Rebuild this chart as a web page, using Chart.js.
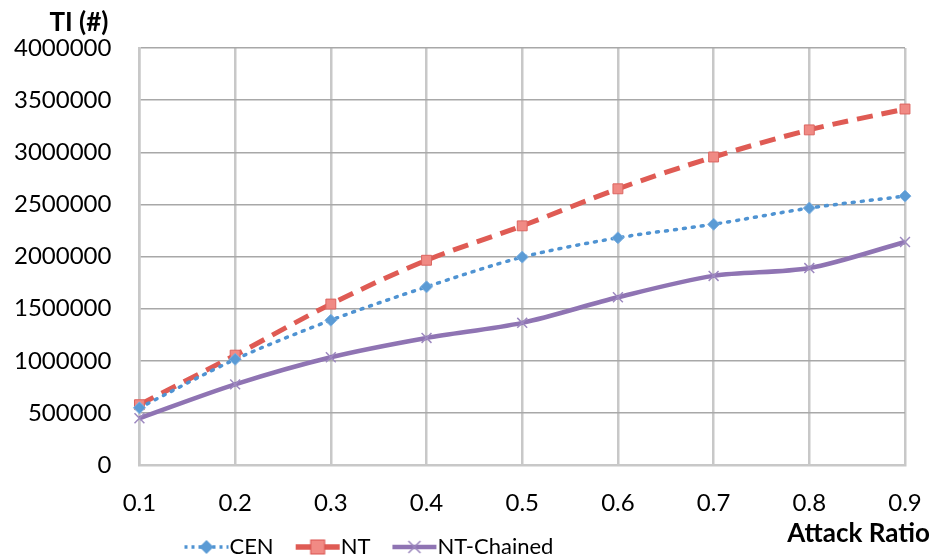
<!DOCTYPE html>
<html>
<head>
<meta charset="utf-8">
<script src="https://cdn.jsdelivr.net/npm/chart.js@4"></script>
<style>
  html, body { margin: 0; padding: 0; background: #fff; }
  #wrap { width: 935px; height: 557px; }
</style>
</head>
<body>
<div id="wrap"><canvas id="myChart"></canvas></div>
<script>
const attackRatios = ['0.1', '0.2', '0.3', '0.4', '0.5', '0.6', '0.7', '0.8', '0.9'];
const cenValues = [550000, 1015000, 1390000, 1710000, 1995000, 2180000, 2310000, 2465000, 2580000];
const ntValues = [580000, 1055000, 1545000, 1965000, 2295000, 2650000, 2955000, 3215000, 3415000];
const ntChainedValues = [450000, 775000, 1035000, 1220000, 1365000, 1610000, 1815000, 1890000, 2140000];
const yTicks = [0, 500000, 1000000, 1500000, 2000000, 2500000, 3000000, 3500000, 4000000];

const FONT = 'Lato, "Open Sans", sans-serif';

const blue = '#4f93d2';
const red = '#df5b54';
const purple = '#8f74b3';

// legend images: a line sample with its marker, drawn on the right part
// of a wider canvas so the gap sits before the sample, not after it
function legendSample(color, dash, width, drawMarker) {
    const c = document.createElement('canvas');
    c.width = 78;
    c.height = 18;
    const g = c.getContext('2d');
    g.strokeStyle = color;
    g.lineWidth = width;
    g.setLineDash(dash);
    g.beginPath();
    g.moveTo(33, 9);
    g.lineTo(77, 9);
    g.stroke();
    g.setLineDash([]);
    drawMarker(g, 55);
    return c;
}

const cenSample = legendSample(blue, [3, 4], 3.5, (g, m) => {
    g.fillStyle = '#5b9bd5';
    g.beginPath();
    g.moveTo(m, 2); g.lineTo(m + 7, 9); g.lineTo(m, 16); g.lineTo(m - 7, 9);
    g.closePath();
    g.fill();
});
const ntSample = legendSample(red, [], 5.5, (g, m) => {
    g.fillStyle = '#f18a84';
    g.strokeStyle = '#d9534f';
    g.lineWidth = 1;
    g.fillRect(m - 7, 2, 14, 14);
    g.strokeRect(m - 7, 2, 14, 14);
});
const chainedSample = legendSample(purple, [], 4.5, (g, m) => {
    g.strokeStyle = '#9b86bd';
    g.lineWidth = 1.5;
    g.beginPath();
    g.moveTo(m - 6, 3); g.lineTo(m + 6, 15);
    g.moveTo(m + 6, 3); g.lineTo(m - 6, 15);
    g.stroke();
});

// axis captions drawn next to the scales, legend nudged into place
const axisCaptions = {
    id: 'axisCaptions',
    afterLayout(chart) {
        chart.legend.left += 23;
        chart.legend.right += 23;
        chart.legend.top -= 6;
        chart.legend.bottom -= 6;
    },
    afterDraw(chart) {
        const ctx = chart.ctx;
        const x = chart.scales.x;
        const y = chart.scales.y;
        ctx.save();
        ctx.fillStyle = '#000';
        ctx.font = 'bold 26px ' + FONT;
        ctx.textAlign = 'right';
        ctx.textBaseline = 'middle';
        ctx.fillText('TI (#)', y.right - 31, chart.chartArea.top - 25);
        ctx.fillText('Attack Ratio', x.right + 25, chart.chartArea.bottom + 68);
        ctx.restore();
    }
};

const ctx = document.getElementById('myChart').getContext('2d');
const myChart = new Chart(ctx, {
    type: 'line',
    data: {
        labels: attackRatios,
        datasets: [{
            label: 'CEN',
            data: cenValues,
            borderColor: blue,
            borderWidth: 3.5,
            borderDash: [2, 7],
            borderCapStyle: 'round',
            pointStyle: 'rectRot',
            pointRadius: 6,
            pointBackgroundColor: '#5b9bd5',
            pointBorderColor: '#7fb1e0',
            pointBorderWidth: 1,
            tension: 0.3
        }, {
            label: 'NT',
            data: ntValues,
            borderColor: red,
            borderWidth: 5,
            borderDash: [16, 9],
            pointStyle: 'rect',
            pointRadius: 7,
            pointBackgroundColor: '#f08a84',
            pointBorderColor: '#dc6560',
            pointBorderWidth: 1,
            tension: 0.3
        }, {
            label: 'NT-Chained',
            data: ntChainedValues,
            borderColor: purple,
            borderWidth: 4.5,
            pointStyle: 'crossRot',
            pointRadius: 7,
            pointBorderColor: '#9d89c0',
            pointBorderWidth: 1.5,
            tension: 0.3
        }]
    },
    options: {
        responsive: true,
        maintainAspectRatio: false,
        animation: false,
        layout: {
            padding: { top: 48, left: -14, right: 30, bottom: -17 }
        },
        plugins: {
            legend: {
                position: 'bottom',
                align: 'start',
                fullSize: false,
                labels: {
                    usePointStyle: true,
                    pointStyleWidth: 56,
                    color: '#000',
                    font: { family: FONT, size: 22 },
                    padding: 0,
                    boxHeight: 18,
                    generateLabels(chart) {
                        const samples = [cenSample, ntSample, chainedSample];
                        return chart.data.datasets.map((ds, i) => ({
                            text: ds.label,
                            pointStyle: samples[i],
                            fontColor: '#000',
                            datasetIndex: i,
                            hidden: false
                        }));
                    }
                }
            },
            tooltip: { enabled: false }
        },
        scales: {
            x: {
                grid: {
                    color: '#c8c8c8',
                    lineWidth: 2.5,
                    drawTicks: false,
                    offset: false
                },
                border: { color: '#c8c8c8', width: 2.5 },
                offset: false,
                ticks: {
                    color: '#000',
                    font: { family: FONT, size: 24 },
                    padding: 24
                },
                afterFit(scale) {
                    // keep the tick padding from widening the side margins
                    scale.paddingLeft = 0;
                    scale.paddingRight = 0;
                }
            },
            y: {
                min: 0,
                max: 4000000,
                afterBuildTicks(scale) {
                    scale.ticks = yTicks.map(v => ({ value: v }));
                },
                grid: {
                    color: '#a8a8a8',
                    lineWidth: 1.5,
                    drawTicks: false
                },
                border: { color: '#c8c8c8', width: 2.5 },
                ticks: {
                    color: '#000',
                    font: { family: FONT, size: 24 },
                    padding: 28,
                    callback: v => String(v)
                }
            }
        }
    },
    plugins: [axisCaptions]
});
</script>
</body>
</html>
